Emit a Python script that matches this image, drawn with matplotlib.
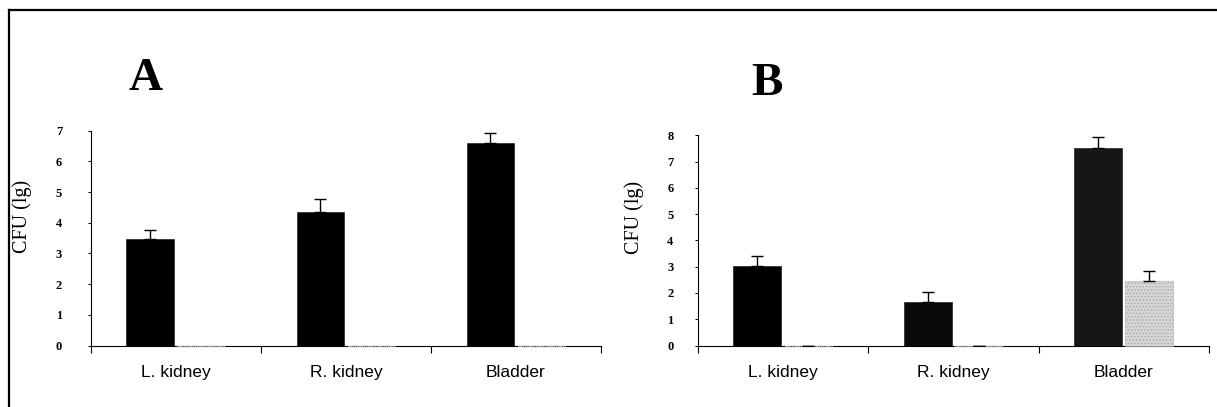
import matplotlib
matplotlib.use('Agg')
import matplotlib.pyplot as plt
from matplotlib.lines import Line2D
import numpy as np

plt.rcParams['hatch.linewidth'] = 0.6

# Data
organs = ['L. kidney', 'R. kidney', 'Bladder']

a_first = [3.47, 4.35, 6.59]
a_first_err = [0.31, 0.41, 0.35]
a_second = [0.0, 0.0, 0.0]

b_first = [3.03, 1.67, 7.53]
b_first_err = [0.39, 0.37, 0.42]
b_second = [0.0, 0.0, 2.47]
b_second_err = [0.0, 0.0, 0.38]

a_ticks = list(range(0, 8))
b_ticks = list(range(0, 9))

fig = plt.figure(figsize=(12.17, 4.07), dpi=100)

# outer frame (only top and left edges are inside the picture)
fig.add_artist(Line2D([9/1217, 9/1217], [0, 1 - 10/407], color='black', lw=1.6,
                      transform=fig.transFigure))
fig.add_artist(Line2D([9/1217, 1], [1 - 10/407, 1 - 10/407], color='black', lw=1.6,
                      transform=fig.transFigure))

axA = fig.add_axes([90.7/1217, 1 - 345.5/407, (601 - 90.7)/1217, (345.5 - 130.7)/407])
axB = fig.add_axes([697.7/1217, 1 - 345.5/407, (1209 - 697.7)/1217, (345.5 - 135.3)/407])

x = np.arange(len(organs))
w = 0.28
off = 0.15


def draw(ax, first, first_err, second, second_err, ticks, first_colors, ypad):
    ax.bar(x - off, first, w, color=first_colors, edgecolor='#222222', lw=0.5, zorder=2)
    ax.errorbar(x - off, first, yerr=[np.zeros(len(first)), first_err], fmt='none',
                ecolor='black', elinewidth=1.0, capsize=4, capthick=1.0, zorder=3)
    ax.bar(x + off, second, w, color='#d6d6d6', edgecolor='#a8a8a8', hatch='.....',
           lw=0.8, ls=(0, (1, 1)), zorder=3, clip_on=False)
    if second_err is not None:
        ax.errorbar(x + off, second, yerr=[np.zeros(len(second)), second_err], fmt='none',
                    ecolor='black', elinewidth=1.0, capsize=4, capthick=1.0, zorder=3)
    ax.set_xlim(-0.5, 2.5)
    ax.set_ylim(0, ticks[-1])
    ax.set_yticks(ticks)
    ax.set_yticklabels([str(t) for t in ticks], fontfamily='Liberation Serif',
                       fontweight='bold', fontsize=9)
    ax.tick_params(axis='y', direction='out', length=2.5, width=0.7, pad=ypad)
    ax.set_xticks([-0.5, 0.5, 1.5, 2.5])
    ax.set_xticklabels([])
    ax.tick_params(axis='x', which='major', direction='out', length=5, width=0.8)
    ax.set_xticks(x, minor=True)
    ax.set_xticklabels(organs, minor=True, fontfamily='Liberation Sans', fontsize=12.5)
    ax.tick_params(axis='x', which='minor', length=0, pad=14)
    for s in ['top', 'right']:
        ax.spines[s].set_visible(False)
    ax.spines['left'].set_linewidth(0.8)
    ax.spines['bottom'].set_linewidth(0.8)
    ax.set_ylabel('CFU (lg)', fontfamily='Liberation Serif', fontsize=14.5)


draw(axA, a_first, a_first_err, a_second, None, a_ticks,
     ['black', 'black', 'black'], 18)
draw(axB, b_first, b_first_err, b_second, b_second_err, b_ticks,
     ['black', '#0a0a0a', '#161616'], 15)

axA.yaxis.set_label_coords(-(90.7 - 32)/(601 - 90.7), 0.6)
axB.yaxis.set_label_coords(-(697.7 - 644)/(1209 - 697.7), 0.61)

fig.text(145.5/1217, 1 - 79/407, 'A', fontfamily='Liberation Serif', fontweight='bold',
         fontsize=34, ha='center', va='center')
fig.text(767/1217, 1 - 84/407, 'B', fontfamily='Liberation Serif', fontweight='bold',
         fontsize=34, ha='center', va='center')

fig.savefig('out.png', dpi=100, facecolor='white')
plt.close()
